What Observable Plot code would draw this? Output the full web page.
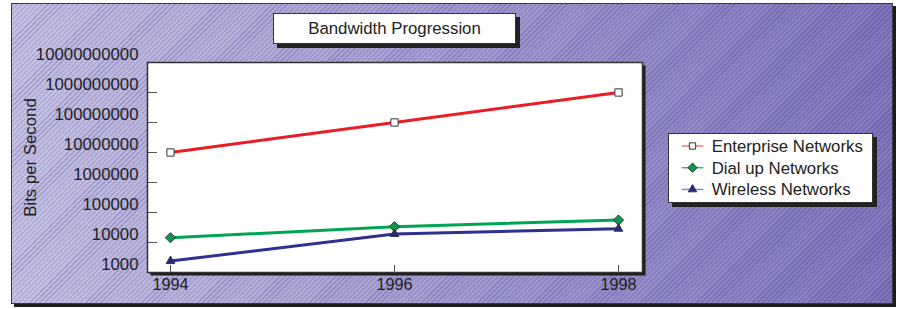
<!DOCTYPE html>
<html><head><meta charset="utf-8">
<script src="https://cdn.jsdelivr.net/npm/d3@7"></script>
<script src="https://cdn.jsdelivr.net/npm/@observablehq/plot@0.6"></script>
<style>
html,body{margin:0;padding:0;background:#fff;}
#wrap{position:relative;width:898px;height:309px;overflow:hidden;font-family:"Liberation Sans",Arial,sans-serif;color:#222;}
#bg{position:absolute;left:11px;top:3px;width:880px;height:299px;border:1px solid #3a3a3a;box-shadow:3px 3px 0 #1e1e1e;
background:repeating-linear-gradient(135deg, rgba(60,50,125,0.22) 0px, rgba(60,50,125,0.22) 1px, rgba(255,255,255,0.10) 1px, rgba(255,255,255,0.10) 2px, transparent 2px, transparent 3.6px), linear-gradient(to right, #c0bde0, #7a71ba);}
#chart{position:absolute;left:0;top:0;}
#title{position:absolute;left:273px;top:13px;width:241px;height:29px;background:#fff;border:1px solid #333;box-shadow:4px 4px 0 #222;font-size:16.8px;line-height:29px;text-align:center;}
#legend{position:absolute;left:668px;top:133px;width:203px;height:68px;background:#fff;border:1px solid #333;box-shadow:4px 4px 0 #222;}
#legend svg{position:absolute;left:0;top:0;}
</style>
</head><body>
<div id="wrap">
  <div id="bg"></div>
  <div id="chart"></div>
  <div id="title"></div>
  <div id="legend"></div>
</div>
<script>
const chartTitle = "Bandwidth Progression";
const yLabel = "Bits per Second";
const years = [1994, 1996, 1998];
const seriesNames = ["Enterprise Networks", "Dial up Networks", "Wireless Networks"];
const enterprise = [10000000, 100000000, 1000000000];
const dialup = [14400, 33600, 56000];
const wireless = [2400, 19200, 28800];
const yTicks = [1000, 10000, 100000, 1000000, 10000000, 100000000, 1000000000, 10000000000];
const lineColors = ["#ec1c24", "#00a651", "#2e3192"];
const legendLineColors = ["#f07a7e", "#3fb878", "#8a8cc6"];
const markerFills = ["#ffffff", "#0b9a4c", "#262a86"];
const markerSymbols = ["square", "diamond2", "triangle"];
const markerR = [4.1, 4.6, 3.2];

const seriesValues = [enterprise, dialup, wireless];
const rows = [];
seriesValues.forEach((vals, i) => years.forEach((yr, j) => rows.push({series: seriesNames[i], year: yr, value: vals[j]})));

const marks = [
  Plot.frame({fill: "#1e1e1e", dx: 3, dy: 3}),
  Plot.frame({fill: "white"}),
  Plot.axisY(yTicks, {tickSize: -10, stroke: "#555", tickFormat: () => "", label: null}),
  Plot.axisY(yTicks, {tickSize: 0, tickPadding: 9, dy: -8, tickFormat: d => String(d), label: null, fontSize: 16.8, fill: "#222"}),
  Plot.axisX(years, {tickSize: -7, stroke: "#555", tickFormat: () => "", label: null}),
  Plot.axisX(years, {tickSize: 0, tickPadding: 6, tickFormat: d => String(d), label: null, fontSize: 16.3, fill: "#222"}),
  Plot.frame({stroke: "#333", strokeWidth: 1.5}),
  Plot.text([yLabel], {frameAnchor: "left", dx: -117, dy: -10, rotate: -90, textAnchor: "middle", fontSize: 16.8, fill: "#222"})
];
seriesNames.forEach((name, i) => {
  const data = rows.filter(d => d.series === name);
  marks.push(Plot.line(data, {x: "year", y: "value", stroke: lineColors[i], strokeWidth: 3}));
});
seriesNames.forEach((name, i) => {
  const data = rows.filter(d => d.series === name);
  marks.push(Plot.dot(data, {x: "year", y: "value", symbol: markerSymbols[i], r: markerR[i], fill: markerFills[i], stroke: "#333", strokeWidth: 1}));
});

const chart = Plot.plot({
  width: 898, height: 309,
  marginLeft: 147, marginRight: 256, marginTop: 62, marginBottom: 37,
  style: {background: "transparent", fontFamily: "'Liberation Sans', Arial, sans-serif", fontSize: "16px", color: "#222", overflow: "visible"},
  x: {type: "linear", domain: [1994, 1998], insetLeft: 23, insetRight: 24},
  y: {type: "log", domain: [1000, 10000000000]},
  marks
});
document.getElementById("chart").appendChild(chart);
document.getElementById("title").textContent = chartTitle;

// legend
const legend = d3.select("#legend").append("svg").attr("width", 203).attr("height", 68)
  .style("font-family", "'Liberation Sans', Arial, sans-serif");
const symMap = {square: d3.symbolSquare, diamond2: d3.symbolDiamond2, triangle: d3.symbolTriangle};
const legendSizes = [40, 55, 30];
seriesNames.forEach((name, i) => {
  const cy = 12 + i * 21.7;
  legend.append("line").attr("x1", 12.7).attr("x2", 34.3).attr("y1", cy).attr("y2", cy)
    .attr("stroke", legendLineColors[i]).attr("stroke-width", 1.5);
  legend.append("path").attr("transform", `translate(23.5,${cy})`)
    .attr("d", d3.symbol(symMap[markerSymbols[i]], legendSizes[i])())
    .attr("fill", markerFills[i]).attr("stroke", "#333").attr("stroke-width", 1);
  legend.append("text").attr("x", 42.7).attr("y", cy).attr("dy", "0.35em")
    .attr("font-size", 16.8).attr("fill", "#222").text(name);
});
</script>
</body></html>
